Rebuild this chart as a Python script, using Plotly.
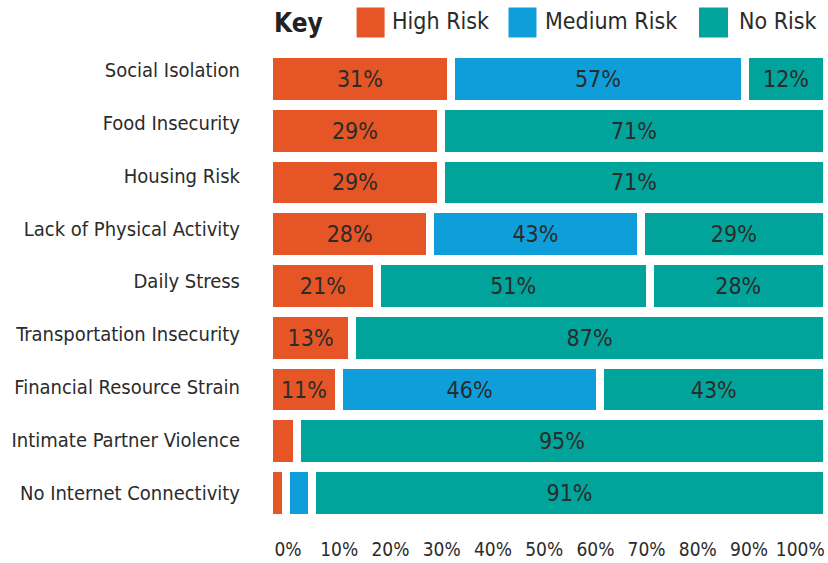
import plotly.graph_objects as go

# ---------------- data ----------------
categories = [
    "Social Isolation",
    "Food Insecurity",
    "Housing Risk",
    "Lack of Physical Activity",
    "Daily Stress",
    "Transportation Insecurity",
    "Financial Resource Strain",
    "Intimate Partner Violence",
    "No Internet Connectivity",
]
high_risk = [32.6, 30.8, 30.8, 28.9, 19.3, 14.9, 12.5, 5.0, 3.0]
medium_risk = [52.7, None, None, 37.7, 48.9, None, 46.9, None, 4.7]
no_risk = [14.7, 69.2, 69.2, 33.4, 31.8, 85.1, 40.6, 95.0, 92.3]

high_labels = ["31%", "29%", "29%", "28%", "21%", "13%", "11%", "", ""]
medium_labels = ["57%", "", "", "43%", "51%", "", "46%", "", ""]
no_labels = ["12%", "71%", "71%", "29%", "28%", "87%", "43%", "95%", "91%"]

tick_values = [0, 10, 20, 30, 40, 50, 60, 70, 80, 90, 100]
tick_labels = ["0%", "10%", "20%", "30%", "40%", "50%", "60%", "70%", "80%", "90%", "100%"]

legend_names = ["High Risk", "Medium Risk", "No Risk"]

ORANGE = "#E55526"
BLUE = "#0E9FDA"
TEAL = "#00A49A"
medium_colors = [BLUE, BLUE, BLUE, BLUE, TEAL, BLUE, BLUE, BLUE, BLUE]

FONT = "DejaVu Sans Condensed, Liberation Sans Narrow, sans-serif"
TXT = "#2b2b2b"

W, H = 828, 563
L, R, T, B = 269, 1, 53, 44


def px_x(p):
    return (p - L) / (W - L - R)


def px_y(p):
    return (H - B - p) / (H - T - B)


fig = go.Figure()

for vals, labels, colors in [
    (high_risk, high_labels, ORANGE),
    (medium_risk, medium_labels, medium_colors),
    (no_risk, no_labels, TEAL),
]:
    fig.add_trace(
        go.Bar(
            y=categories,
            x=vals,
            orientation="h",
            marker=dict(color=colors, line=dict(color="white", width=8)),
            text=labels,
            textposition="inside",
            insidetextanchor="middle",
            textangle=0,
            constraintext="none",
            textfont=dict(size=23, color=TXT, family=FONT),
            hoverinfo="skip",
            showlegend=False,
        )
    )

# helper traces so the label axes exist
fig.add_trace(go.Scatter(x=[None], y=[None], xaxis="x2", yaxis="y",
                         mode="markers", showlegend=False, hoverinfo="skip"))
fig.add_trace(go.Scatter(x=[None] * len(categories), y=categories, xaxis="x", yaxis="y2",
                         mode="markers", marker=dict(opacity=0), showlegend=False,
                         hoverinfo="skip"))

fig.update_layout(
    width=W,
    height=H,
    margin=dict(l=L, r=R, t=T, b=B, pad=0, autoexpand=False),
    barmode="stack",
    bargap=0.04,
    plot_bgcolor="white",
    paper_bgcolor="white",
    font=dict(family=FONT, color=TXT),
    xaxis=dict(range=[0, 100], showticklabels=False, showgrid=False,
               zeroline=False, showline=False, ticks="", automargin=False),
    xaxis2=dict(overlaying="x", anchor="y", side="bottom",
                range=[-3.709, 105.21], tickvals=tick_values, ticktext=tick_labels,
                showgrid=False, zeroline=False, showline=False, ticks="",
                tickfont=dict(size=19, color=TXT, family=FONT),
                ticklabelstandoff=17, automargin=False),
    yaxis=dict(categoryorder="array", categoryarray=categories,
               range=[8.5, -0.5], showticklabels=False, showgrid=False,
               zeroline=False, showline=False, ticks="", automargin=False),
    yaxis2=dict(overlaying="y", anchor="x", side="left", type="category",
                categoryorder="array", categoryarray=categories,
                range=[8.492, -0.3215], showgrid=False, zeroline=False,
                showline=False, ticks="",
                tickfont=dict(size=20, color=TXT, family=FONT),
                ticklabelstandoff=28, automargin=False),
)

# manual key
shapes = []
annotations = [
    dict(text="<b>Key</b>", x=px_x(272), y=px_y(23), xref="paper", yref="paper",
         xanchor="left", yanchor="middle", showarrow=False,
         font=dict(size=26, color="#222222", family=FONT))
]
key_items = [(356.6, 384.6, 392, ORANGE), (508.5, 536.5, 545, BLUE), (699, 728, 738.5, TEAL)]
for name, (sx0, sx1, tx, col) in zip(legend_names, key_items):
    shapes.append(dict(type="rect", xref="paper", yref="paper",
                       x0=px_x(sx0), x1=px_x(sx1), y0=px_y(37.5), y1=px_y(7.5),
                       fillcolor=col, line=dict(width=0)))
    annotations.append(dict(text=name, x=px_x(tx - 2), y=px_y(21), xref="paper",
                            yref="paper", xanchor="left", yanchor="middle",
                            showarrow=False, font=dict(size=23, color=TXT, family=FONT)))

fig.update_layout(shapes=shapes, annotations=annotations)

fig.write_html("out.html", config={"displayModeBar": False},
               post_script="document.body.style.margin='0';")
